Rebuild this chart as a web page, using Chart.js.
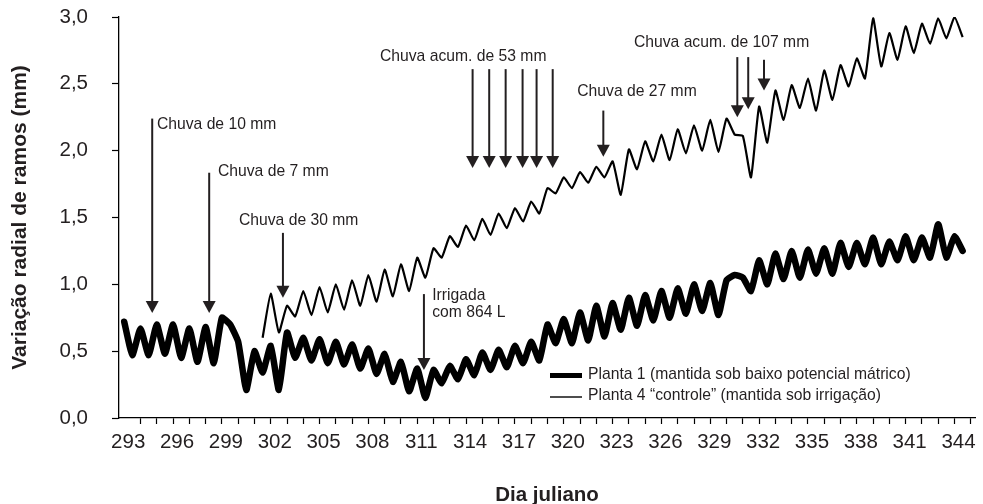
<!DOCTYPE html>
<html lang="pt">
<head>
<meta charset="utf-8">
<title>Variação radial de ramos</title>
<script src="https://cdn.jsdelivr.net/npm/chart.js@4.4.1/dist/chart.umd.min.js"></script>
<style>
  html, body { margin: 0; padding: 0; background: #fff; }
</style>
</head>
<body>
<canvas id="grafico" width="983" height="504"></canvas>
<script>
// dias julianos; por dia uma leitura de minimo (tarde) e uma de maximo (noite)
var dias = [292, 293, 294, 295, 296, 297, 298, 299, 300, 301, 302, 303, 304, 305, 306, 307, 308,
  309, 310, 311, 312, 313, 314, 315, 316, 317, 318, 319, 320, 321, 322, 323, 324, 325, 326, 327,
  328, 329, 330, 331, 332, 333, 334, 335, 336, 337, 338, 339, 340, 341, 342, 343, 344];

var rotulosX = [293, 296, 299, 302, 305, 308, 311, 314, 317, 320, 323, 326, 329, 332, 335, 338, 341, 344];
var rotulosY = [0, 0.5, 1, 1.5, 2, 2.5, 3];

// Planta 1 (mm)
var p1Min = [null, 0.47, 0.47, 0.48, 0.45, 0.42, 0.41, 0.70, 0.21, 0.34, 0.21, 0.45, 0.43, 0.41, 0.40,
  0.37, 0.33, 0.27, 0.20, 0.15, 0.26, 0.29, 0.32, 0.36, 0.38, 0.41, 0.43, 0.56, 0.56, 0.58, 0.61, 0.66,
  0.69, 0.73, 0.75, 0.78, 0.80, 0.77, 1.07, 0.95, 1.00, 1.04, 1.05, 1.08, 1.08, 1.13, 1.15, 1.15, 1.18,
  1.18, 1.20, 1.20, 1.25];
var p1Max = [0.72, 0.67, 0.70, 0.70, 0.67, 0.68, 0.75, 0.57, 0.50, 0.54, 0.64, 0.60, 0.59, 0.57, 0.55,
  0.52, 0.48, 0.42, 0.37, 0.36, 0.39, 0.44, 0.49, 0.51, 0.54, 0.57, 0.70, 0.74, 0.79, 0.84, 0.86, 0.90,
  0.92, 0.95, 0.97, 1.00, 1.01, 1.03, 1.05, 1.18, 1.23, 1.25, 1.26, 1.27, 1.31, 1.31, 1.35, 1.32, 1.36,
  1.35, 1.45, 1.36, null];

// Planta 4 (mm)
var p4Min = [null, null, null, null, null, null, null, null, null, 0.60, 0.64, 0.76, 0.77, 0.79, 0.81,
  0.84, 0.87, 0.91, 0.95, 1.05, 1.20, 1.28, 1.33, 1.37, 1.42, 1.47, 1.53, 1.68, 1.72, 1.76, 1.80, 1.67,
  1.86, 1.92, 1.93, 1.98, 2.00, 1.99, 2.12, 1.80, 2.06, 2.23, 2.32, 2.30, 2.38, 2.48, 2.54, 2.63, 2.68,
  2.73, 2.80, 2.84, 2.85];
var p4Max = [null, null, null, null, null, null, null, null, null, 0.93, 0.84, 0.95, 0.98, 1.00, 1.03,
  1.07, 1.11, 1.15, 1.20, 1.27, 1.36, 1.44, 1.49, 1.53, 1.57, 1.62, 1.72, 1.80, 1.84, 1.88, 1.92, 2.01,
  2.07, 2.12, 2.16, 2.19, 2.23, 2.24, 2.11, 2.33, 2.45, 2.49, 2.54, 2.60, 2.64, 2.69, 2.99, 2.88, 2.93,
  2.95, 2.99, 3.00, null];

// setas de chuva / irrigacao: dia, valor do inicio e valor da ponta
var setas = [
  { dia: 294.52, de: 2.24, ate: 0.785 },
  { dia: 298.02, de: 1.835, ate: 0.785 },
  { dia: 302.55, de: 1.385, ate: 0.90 },
  { dia: 314.20, de: 2.61, ate: 1.87 },
  { dia: 315.22, de: 2.61, ate: 1.87 },
  { dia: 316.23, de: 2.61, ate: 1.87 },
  { dia: 317.27, de: 2.61, ate: 1.87 },
  { dia: 318.13, de: 2.61, ate: 1.87 },
  { dia: 319.12, de: 2.61, ate: 1.87 },
  { dia: 322.23, de: 2.30, ate: 1.955 },
  { dia: 330.46, de: 2.70, ate: 2.25 },
  { dia: 331.13, de: 2.70, ate: 2.31 },
  { dia: 332.10, de: 2.68, ate: 2.45 },
  { dia: 311.21, de: 0.927, ate: 0.36 }
];

var textos = [
  { dia: 294.81, valor: 2.194, texto: 'Chuva de 10 mm' },
  { dia: 298.56, valor: 1.845, texto: 'Chuva de 7 mm' },
  { dia: 299.85, valor: 1.476, texto: 'Chuva de 30 mm' },
  { dia: 308.51, valor: 2.705, texto: 'Chuva acum. de 53 mm' },
  { dia: 320.63, valor: 2.443, texto: 'Chuva de 27 mm' },
  { dia: 324.11, valor: 2.805, texto: 'Chuva acum. de 107 mm' },
  { dia: 311.72, valor: 0.915, texto: 'Irrigada' },
  { dia: 311.72, valor: 0.788, texto: 'com 864 L' }
];

var corTexto = '#231f20';
var fonte = '"Liberation Sans", Arial, Helvetica, sans-serif';

function montaSerie(minimos, maximos) {
  var pts = [];
  dias.forEach(function (d, i) {
    if (minimos[i] !== null) pts.push({ x: d + 0.3, y: minimos[i] });
    if (maximos[i] !== null) pts.push({ x: d + 0.8, y: maximos[i] });
  });
  return pts;
}

// marcas do eixo x, uma por dia
var marcasX = [];
for (var d = 293; d <= 345; d++) marcasX.push(d - 0.2);

var anotacoes = {
  id: 'anotacoes',
  afterDatasetsDraw: function (chart) {
    var ctx = chart.ctx, sx = chart.scales.x, sy = chart.scales.y;
    ctx.save();
    ctx.strokeStyle = corTexto;
    ctx.fillStyle = corTexto;
    ctx.lineWidth = 2;
    setas.forEach(function (s) {
      var px = sx.getPixelForValue(s.dia);
      var p0 = sy.getPixelForValue(s.de);
      var p1 = sy.getPixelForValue(s.ate);
      ctx.beginPath();
      ctx.moveTo(px, p0);
      ctx.lineTo(px, p1 - 10);
      ctx.stroke();
      ctx.beginPath();
      ctx.moveTo(px - 6.5, p1 - 12);
      ctx.lineTo(px + 6.5, p1 - 12);
      ctx.lineTo(px, p1);
      ctx.closePath();
      ctx.fill();
    });

    ctx.font = '15.7px ' + fonte;
    ctx.textAlign = 'left';
    ctx.textBaseline = 'middle';
    textos.forEach(function (t) {
      ctx.fillText(t.texto, sx.getPixelForValue(t.dia), sy.getPixelForValue(t.valor));
    });

    // legenda dentro da area do grafico
    var ds = chart.data.datasets;
    var lx = 550, ly = [375.5, 397];
    ds.forEach(function (s, i) {
      ctx.beginPath();
      ctx.lineWidth = i === 0 ? 5 : 1.4;
      ctx.strokeStyle = '#000';
      ctx.moveTo(lx, ly[i]);
      ctx.lineTo(lx + 32, ly[i]);
      ctx.stroke();
      ctx.fillText(s.label, lx + 38, ly[i] - 1);
    });
    ctx.restore();
  }
};

new Chart(document.getElementById('grafico'), {
  type: 'line',
  data: {
    datasets: [{
      label: 'Planta 1 (mantida sob baixo potencial mátrico)',
      data: montaSerie(p1Min, p1Max),
      borderColor: '#000',
      borderWidth: 6.5,
      borderJoinStyle: 'round',
      borderCapStyle: 'round',
      pointRadius: 0,
      tension: 0.15,
      fill: false
    }, {
      label: 'Planta 4 “controle” (mantida sob irrigação)',
      data: montaSerie(p4Min, p4Max),
      borderColor: '#000',
      borderWidth: 2.2,
      borderJoinStyle: 'round',
      pointRadius: 0,
      tension: 0.15,
      fill: false
    }]
  },
  options: {
    responsive: false,
    devicePixelRatio: 1,
    animation: false,
    layout: { padding: { top: 17, right: 8, left: 0, bottom: 0 } },
    plugins: {
      legend: { display: false },
      tooltip: { enabled: false }
    },
    scales: {
      x: {
        type: 'linear',
        min: 292.48,
        max: 345.06,
        afterBuildTicks: function (scale) {
          scale.ticks = marcasX.map(function (v) { return { value: v }; });
        },
        afterFit: function (scale) {
          scale.height = 86;
          scale.paddingLeft = 0;
          scale.paddingRight = 0;
        },
        grid: {
          drawOnChartArea: false,
          drawTicks: true,
          tickLength: 6,
          tickWidth: 1.2,
          tickColor: function (c) { return c.index === 0 ? 'rgba(0,0,0,0)' : '#000'; }
        },
        border: { display: true, color: '#000', width: 1.3 },
        ticks: {
          autoSkip: false,
          maxRotation: 0,
          minRotation: 0,
          padding: 6,
          labelOffset: 4,
          color: corTexto,
          font: { family: fonte, size: 20.5 },
          callback: function (v) {
            var dia = Math.round(v + 0.2);
            return rotulosX.indexOf(dia) >= 0 ? String(dia) : '';
          }
        },
        title: {
          display: true,
          text: 'Dia juliano',
          color: corTexto,
          padding: 0,
          font: { family: fonte, size: 20.5, weight: 'bold', lineHeight: 0.8 }
        }
      },
      y: {
        min: 0,
        max: 3,
        afterBuildTicks: function (scale) {
          scale.ticks = rotulosY.map(function (v) { return { value: v }; });
        },
        afterFit: function (scale) {
          scale.width = 119;
          scale.paddingTop = 0;
          scale.paddingBottom = 0;
        },
        grid: {
          drawOnChartArea: false,
          drawTicks: true,
          tickLength: 7,
          tickWidth: 1.2,
          tickColor: '#000'
        },
        border: { display: true, color: '#000', width: 1.3 },
        ticks: {
          padding: 24,
          color: corTexto,
          font: { family: fonte, size: 20.5 },
          callback: function (v) { return v.toFixed(1).replace('.', ','); }
        },
        title: {
          display: true,
          text: 'Variação radial de ramos (mm)',
          color: corTexto,
          padding: { top: 8, bottom: 0 },
          font: { family: fonte, size: 21, weight: 'bold' }
        }
      }
    }
  },
  plugins: [anotacoes]
});
</script>
</body>
</html>
